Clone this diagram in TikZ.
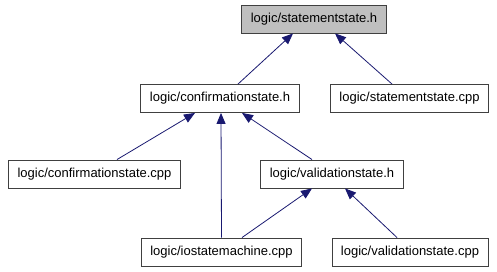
\documentclass[tikz,border=0pt]{standalone}
\usepackage{fontspec}
\setmainfont{Liberation Sans}
\usetikzlibrary{arrows.meta}
\definecolor{edgeblue}{HTML}{191970}
\definecolor{boxline}{HTML}{404040}
\definecolor{rootfill}{HTML}{BFBFBF}

\begin{document}
\begin{tikzpicture}[x=1pt,y=-1pt,
  filebox/.style={draw=boxline,line width=0.9pt,fill=white,inner xsep=9pt,minimum height=28pt,font=\fontsize{13}{15}\selectfont},
  rootbox/.style={filebox,fill=rootfill},
  incl/.style={edgeblue,line width=0.8pt,-{Triangle[length=11pt,width=9pt]}}]

%fix page size
\useasboundingbox (0,0) rectangle (497,272);

%draw file boxes
\node[rootbox] (stmth) at (314,19) {logic/statementstate.h};
\node[filebox] (confh) at (220,98.5) {logic/confirmationstate.h};
\node[filebox] (stmtcpp) at (409.5,98.5) {logic/statementstate.cpp};
\node[filebox] (confcpp) at (94.5,174) {logic/confirmationstate.cpp};
\node[filebox] (validh) at (332,174) {logic/validationstate.h};
\node[filebox] (iosm) at (221.5,252) {logic/iostatemachine.cpp};
\node[filebox] (validcpp) at (410,252) {logic/validationstate.cpp};

%draw include arrows
\draw[incl] ([xshift=18pt]confh.north) -- ([xshift=-21pt]stmth.south);
\draw[incl] ([xshift=-17.5pt]stmtcpp.north) -- ([xshift=21pt]stmth.south);
\draw[incl] ([xshift=22.5pt]confcpp.north) -- ([xshift=-25pt]confh.south);
\draw[incl] ([xshift=0pt]iosm.north) -- ([xshift=1pt]confh.south);
\draw[incl] ([xshift=-20pt]validh.north) -- ([xshift=22pt]confh.south);
\draw[incl] ([xshift=20.5pt]iosm.north) -- ([xshift=-20pt]validh.south);
\draw[incl] ([xshift=-13pt]validcpp.north) -- ([xshift=13pt]validh.south);

\end{tikzpicture}
\end{document}
